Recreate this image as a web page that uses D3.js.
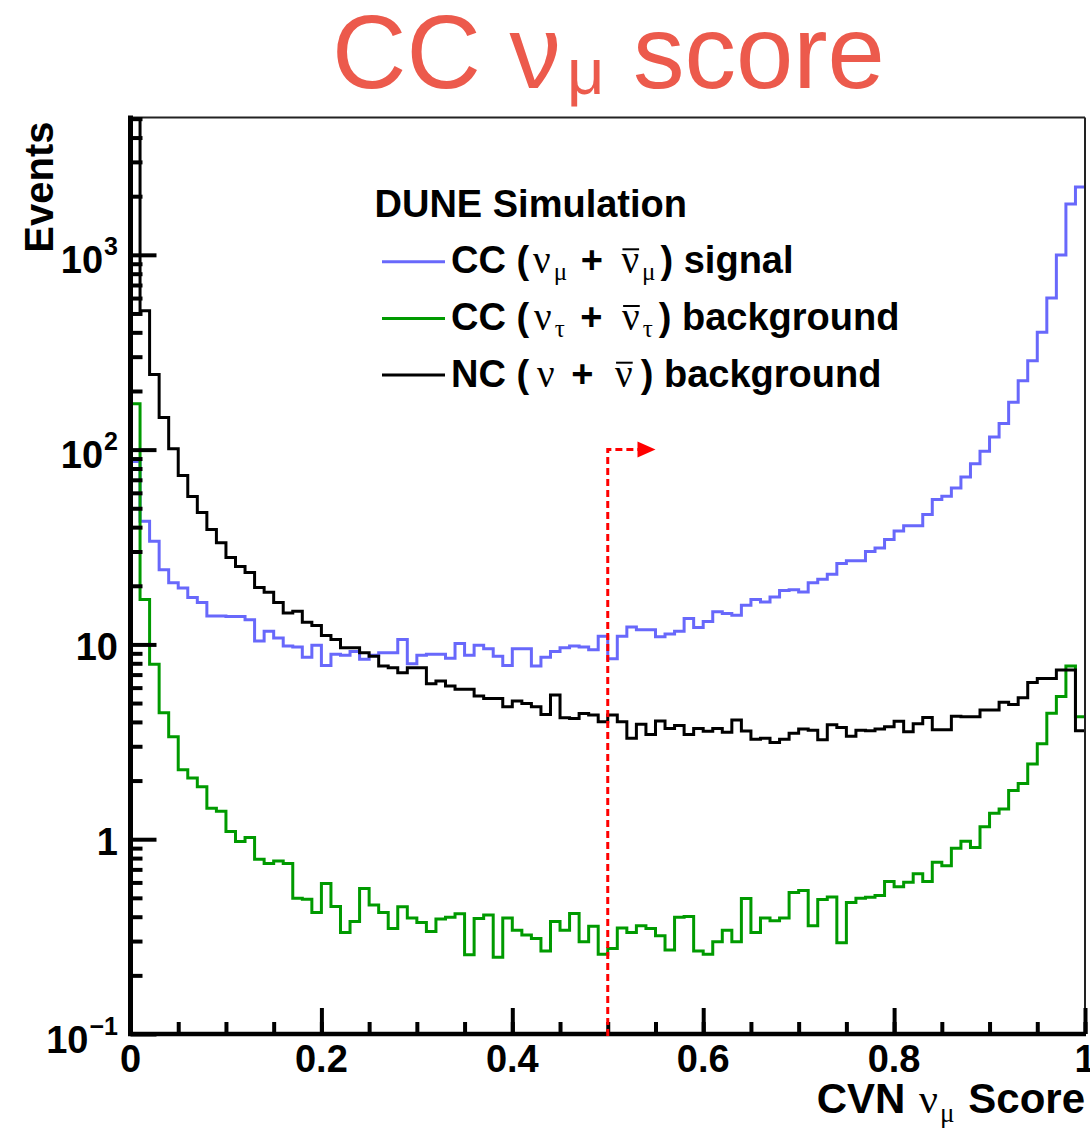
<!DOCTYPE html>
<html>
<head>
<meta charset="utf-8">
<script src="https://cdn.jsdelivr.net/npm/d3@7/dist/d3.min.js"></script>
<style>
  body { margin: 0; background: #fff; }
  svg text { font-family: 'Liberation Sans', Arial, Helvetica, sans-serif; white-space: pre; }
</style>
</head>
<body>
<svg width="1090" height="1128"></svg>
<script>
// 100 bins of CVN numu score between 0 and 1
const nBins = 100;
const scoreRange = [0, 1];

// CC (numu + anti-numu) signal
const signalCC = [
  87, 42.9, 33.9, 24.2, 20.7, 19.5, 17.4, 16.4, 14.0, 14.0,
  13.9, 13.9, 13.4, 10.4, 11.7, 10.8, 9.8, 9.7, 8.6, 9.9,
  7.8, 8.9, 8.8, 9.2, 8.4, 8.8, 9.06, 9.06, 10.6, 7.95,
  8.8, 8.9, 8.9, 8.5, 10.1, 8.8, 9.9, 9.5, 8.7, 7.8,
  9.5, 9.5, 7.75, 8.6, 9.2, 9.6, 9.8, 9.7, 9.4, 11.0,
  8.44, 11.0, 12.3, 11.9, 11.9, 10.95, 11.3, 11.7, 13.6, 12.2,
  13.1, 14.7, 14.4, 14.1, 15.9, 17.0, 16.5, 17.5, 18.9, 19.1,
  18.6, 20.7, 21.6, 22.9, 26.0, 26.9, 26.9, 30.0, 31.3, 34.6,
  38.2, 40.7, 40.7, 46.4, 55.5, 57.7, 63.5, 72.3, 84.6, 98.2,
  116, 136, 175, 226, 286, 401, 600, 998, 1822, 2230
];

// CC (nutau + anti-nutau) background
const tauCC = [
  172, 17.0, 7.9, 4.46, 3.36, 2.27, 2.06, 1.86, 1.44, 1.39,
  1.095, 0.973, 1.02, 0.79, 0.75, 0.774, 0.75, 0.498, 0.492, 0.421,
  0.593, 0.452, 0.332, 0.378, 0.559, 0.459, 0.421, 0.348, 0.45, 0.394,
  0.374, 0.336, 0.389, 0.397, 0.414, 0.255, 0.392, 0.408, 0.248, 0.394,
  0.341, 0.322, 0.309, 0.267, 0.378, 0.341, 0.416, 0.298, 0.357, 0.257,
  0.275, 0.35, 0.332, 0.359, 0.348, 0.319, 0.27, 0.397, 0.401, 0.267,
  0.257, 0.298, 0.341, 0.298, 0.496, 0.332, 0.394, 0.381, 0.394, 0.533,
  0.545, 0.36, 0.49, 0.505, 0.294, 0.473, 0.497, 0.504, 0.514, 0.607,
  0.57, 0.602, 0.665, 0.607, 0.762, 0.731, 0.899, 0.977, 0.907, 1.16,
  1.36, 1.43, 1.78, 1.93, 2.43, 3.09, 4.43, 5.41, 7.75, 4.25
];

// NC (nu + anti-nu) background
const ncBkg = [
  6200, 516, 243, 146, 101, 73.6, 57.4, 47.5, 38.9, 33.3,
  27.9, 25.1, 23.4, 19.6, 18.5, 16.4, 14.5, 14.8, 13.0, 12.5,
  11.1, 10.6, 9.6, 9.6, 9.06, 8.7, 7.75, 7.6, 7.15, 7.6,
  7.6, 6.28, 6.48, 6.11, 5.88, 5.88, 5.44, 5.27, 5.27, 4.79,
  5.12, 4.98, 4.79, 4.37, 5.5, 4.2, 4.17, 4.42, 4.34, 4.01,
  4.34, 4.01, 3.3, 3.89, 3.45, 4.05, 3.7, 3.84, 3.45, 3.7,
  3.58, 3.7, 3.54, 4.09, 3.59, 3.26, 3.3, 3.14, 3.26, 3.5,
  3.68, 3.63, 3.24, 3.87, 3.75, 3.38, 3.63, 3.6, 3.68, 3.78,
  4.03, 3.56, 3.91, 4.21, 3.65, 3.65, 4.28, 4.25, 4.25, 4.61,
  4.61, 5.05, 4.91, 5.33, 6.37, 6.69, 6.69, 7.38, 7.38, 3.6
];

const xMajorTicks = [0, 0.2, 0.4, 0.6, 0.8, 1];
const xTickLabels = ['0', '0.2', '0.4', '0.6', '0.8', '1'];
const xMinorTicks = d3.range(0, 21).map(i => i * 0.05);
const yDecades = [0.1, 1, 10, 100, 1000];
const yDecadeLabels = [['10', '\u22121'], ['1', ''], ['10', ''], ['10', '2'], ['10', '3']];
const yMax = 5070;

// selection cut and its arrow
const cutValue = 0.5;
const arrowLevel = 100;
const arrowTip = 0.55;

const svg = d3.select('svg');
const width = +svg.attr('width');
const height = +svg.attr('height');
const margin = { top: 117.5, right: 5, bottom: 94, left: 130.5 };
const innerWidth = width - margin.left - margin.right;
const innerHeight = height - margin.top - margin.bottom;

const xScale = d3.scaleLinear().domain(scoreRange).range([0, innerWidth]);
const yScale = d3.scaleLog().domain([0.1, yMax]).range([innerHeight, 0]);

const g = svg.append('g')
  .attr('transform', `translate(${margin.left},${margin.top})`);

g.append('clipPath').attr('id', 'frame')
  .append('rect').attr('width', innerWidth).attr('height', innerHeight);

// histograms as step outlines
const binWidth = (scoreRange[1] - scoreRange[0]) / nBins;
const toSteps = values => {
  const pts = values.map((v, i) => [scoreRange[0] + i * binWidth, v]);
  pts.push([scoreRange[1], values[values.length - 1]]);
  return pts;
};
const stepLine = d3.line()
  .x(d => xScale(d[0]))
  .y(d => yScale(d[1]))
  .curve(d3.curveStepAfter);

const series = [
  { values: signalCC, color: '#6868fb' },
  { values: tauCC, color: '#009a00' },
  { values: ncBkg, color: '#000000' }
];

const histG = g.append('g').attr('clip-path', 'url(#frame)');
series.forEach(s => {
  histG.append('path')
    .attr('d', stepLine(toSteps(s.values)))
    .attr('fill', 'none')
    .attr('stroke', s.color)
    .attr('stroke-width', 3);
});

// frame: thin top/right, thick axes left/bottom
g.append('line').attr('x1', 0).attr('x2', innerWidth).attr('y1', 0).attr('y2', 0)
  .attr('stroke', '#222').attr('stroke-width', 2);
g.append('line').attr('x1', innerWidth).attr('x2', innerWidth).attr('y1', 0).attr('y2', innerHeight)
  .attr('stroke', '#222').attr('stroke-width', 2);

const yMinor = [];
yDecades.forEach(d => d3.range(2, 10).forEach(m => { if (d * m < yMax) yMinor.push(d * m); }));

const styleAxis = sel => {
  sel.select('.domain').remove();
  sel.selectAll('.tick line').attr('stroke', '#000').attr('stroke-width', 4);
};

g.append('g').call(d3.axisLeft(yScale).tickValues(yMinor).tickSize(-12).tickFormat('')).call(styleAxis);
g.append('g').call(d3.axisLeft(yScale).tickValues(yDecades).tickSize(-26).tickFormat('')).call(styleAxis);

const xAxisG = g.append('g').attr('transform', `translate(0,${innerHeight})`);
xAxisG.append('g').call(d3.axisBottom(xScale).tickValues(xMinorTicks).tickSize(-12).tickFormat('')).call(styleAxis);
xAxisG.append('g').call(d3.axisBottom(xScale).tickValues(xMajorTicks).tickSize(-26).tickFormat('')).call(styleAxis);

g.append('line').attr('x1', 0).attr('x2', 0).attr('y1', -2).attr('y2', innerHeight + 2)
  .attr('stroke', '#000').attr('stroke-width', 5);
g.append('line').attr('x1', -2.5).attr('x2', innerWidth + 1).attr('y1', innerHeight).attr('y2', innerHeight)
  .attr('stroke', '#000').attr('stroke-width', 4.5);

// x tick labels
g.selectAll('.xlabel').data(xMajorTicks).enter().append('text')
  .attr('class', 'xlabel')
  .attr('x', d => xScale(d))
  .attr('y', innerHeight + 38)
  .attr('text-anchor', 'middle')
  .attr('font-size', 38)
  .attr('font-weight', 'bold')
  .text((d, i) => xTickLabels[i]);

// text made of pieces (greek letters, sub/superscripts, overlines)
const serif = "'Liberation Serif', 'Times New Roman', serif";
function richText(parent, x0, y0, parts, anchor) {
  const tg = parent.append('g');
  let cx = 0;
  parts.forEach(p => {
    cx += p.dx || 0;
    const t = tg.append('text')
      .attr('x', cx)
      .attr('y', p.dy || 0)
      .attr('font-size', p.size)
      .attr('font-weight', p.weight || 'bold')
      .attr('fill', p.color || '#000')
      .text(p.t);
    if (p.serif) t.style('font-family', serif);
    const w = t.node().getComputedTextLength();
    if (p.over) {
      tg.append('line')
        .attr('x1', cx + 1).attr('x2', cx + w)
        .attr('y1', -p.over).attr('y2', -p.over)
        .attr('stroke', '#000').attr('stroke-width', 2);
    }
    cx += w;
  });
  const shift = anchor === 'end' ? x0 - cx : (anchor === 'middle' ? x0 - cx / 2 : x0);
  tg.attr('transform', `translate(${shift},${y0})`);
  return tg;
}

// y tick labels
yDecades.forEach((d, i) => {
  const [base, expo] = yDecadeLabels[i];
  const parts = [{ t: base, size: 38 }];
  if (expo) parts.push({ t: expo, size: 25, dy: -18, dx: 1 });
  richText(g, -12.5, yScale(d) + (expo ? 18.5 : 15.5), parts, 'end');
});

// axis titles
richText(g, innerWidth, innerHeight + 79, [
  { t: 'CVN ', size: 42 },
  { t: '\u03bd', size: 42, weight: 'normal', serif: true, dx: 2 },
  { t: '\u03bc', size: 27, weight: 'normal', serif: true, dy: 9, dx: 2 },
  { t: ' Score', size: 42, dx: 2 }
], 'end');

g.append('text')
  .attr('transform', 'translate(-78,4) rotate(-90)')
  .attr('text-anchor', 'end')
  .attr('font-size', 40)
  .attr('font-weight', 'bold')
  .text('Events');

// cut line with arrow
const cutX = xScale(cutValue);
const arrowY = yScale(arrowLevel);
const arrowG = g.append('g');
arrowG.append('path')
  .attr('d', `M${cutX},${innerHeight + 2}V${arrowY}H${xScale(arrowTip) - 16}`)
  .attr('fill', 'none')
  .attr('stroke', '#ff0000')
  .attr('stroke-width', 3)
  .attr('stroke-dasharray', '7,4');
arrowG.append('path')
  .attr('d', `M${xScale(arrowTip)},${arrowY}l-18,-8v16z`)
  .attr('fill', '#ff0000');

// legend
const legend = svg.append('g');
legend.append('text')
  .attr('x', 374.5).attr('y', 216.5)
  .attr('font-size', 38).attr('font-weight', 'bold')
  .text('DUNE Simulation');

const greek = (t, extra) => Object.assign({ t, size: 39, weight: 'normal', serif: true }, extra);
const sub = t => ({ t, size: 25, weight: 'normal', serif: true, dy: 7, dx: 3 });

const legendEntries = [
  { color: '#6868fb', parts: [
    { t: 'CC (', size: 38 },
    greek('\u03bd', { dx: 4 }), sub('\u03bc'),
    { t: ' + ', size: 38, dx: 3 },
    greek('\u03bd', { dx: 8, over: 24 }), sub('\u03bc'),
    { t: ') signal', size: 38, dx: 5 }
  ] },
  { color: '#009a00', parts: [
    { t: 'CC (', size: 38 },
    greek('\u03bd', { dx: 5 }), sub('\u03c4'),
    { t: ' + ', size: 38, dx: 5 },
    greek('\u03bd', { dx: 9, over: 24 }), sub('\u03c4'),
    { t: ') background', size: 38, dx: 6 }
  ] },
  { color: '#000000', parts: [
    { t: 'NC (', size: 38 },
    greek('\u03bd', { dx: 8 }),
    { t: ' + ', size: 38, dx: 6 },
    greek('\u03bd', { dx: 11, over: 24 }),
    { t: ') background', size: 38, dx: 8 }
  ] }
];

legendEntries.forEach((e, i) => {
  const baseY = 273.3 + i * 56.7;
  legend.append('line')
    .attr('x1', 382).attr('x2', 445)
    .attr('y1', baseY - 11.6).attr('y2', baseY - 11.6)
    .attr('stroke', e.color).attr('stroke-width', 3);
  richText(legend, 451, baseY, e.parts, 'start');
});

// page title
richText(svg, 332, 88, [
  { t: 'CC ', size: 103, weight: 'normal', color: '#ec5a4c' },
  { t: '\u03bd', size: 103, weight: 'normal', color: '#ec5a4c' },
  { t: '\u03bc', size: 65, weight: 'normal', color: '#ec5a4c', dy: 6, dx: 6 },
  { t: ' score', size: 103, weight: 'normal', color: '#ec5a4c' }
], 'start');
</script>
</body>
</html>
